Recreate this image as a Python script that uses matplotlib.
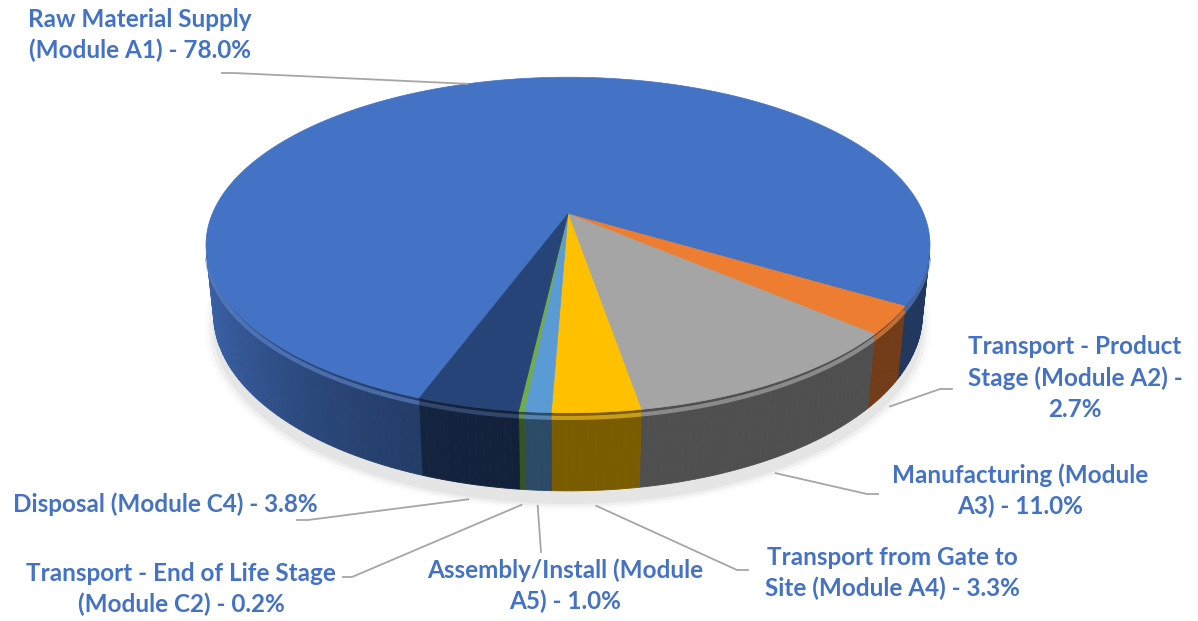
import numpy as np
import matplotlib
matplotlib.use("Agg")
import matplotlib.pyplot as plt
from matplotlib.colors import to_rgb

plt.rcParams['font.family'] = ['Lato', 'DejaVu Sans']

# data
categories = ['Raw Material Supply (Module A1)', 'Transport - Product Stage (Module A2)',
              'Manufacturing (Module A3)', 'Transport from Gate to Site (Module A4)',
              'Assembly/Install (Module A5)', 'Transport - End of Life Stage (Module C2)',
              'Disposal (Module C4)']
values = [78.0, 2.7, 11.0, 3.3, 1.0, 0.2, 3.8]
colors = ['#4472C4', '#ED7D31', '#A5A5A5', '#FFC000', '#5B9BD5', '#70AD47', '#264478']
label_lines = [
    ['Raw Material Supply', '(Module A1) - 78.0%'],
    ['Transport - Product', 'Stage (Module A2) -', '2.7%'],
    ['Manufacturing (Module', 'A3) - 11.0%'],
    ['Transport from Gate to', 'Site (Module A4) - 3.3%'],
    ['Assembly/Install (Module', 'A5) - 1.0%'],
    ['Transport - End of Life Stage', '(Module C2) - 0.2%'],
    ['Disposal (Module C4) - 3.8%'],
]
# label layout (pixels): text centre x, first baseline y, leader end x, y, stub
label_x = [140, 1075, 1020, 892, 565, 181, 165]
label_y = [27, 354, 483, 565, 578, 581, 512]
leader_end = [(222, 73), (952, 389), (878, 494), (748, 570), (541, 552), (343, 577), (297, 520)]
stub = [12, -12, -11, -11, 0, 9, 11]

# 3d view
cx, cy = 568, 214
D, F = 4.815, 1713
el = np.radians(27.1)
s, c = np.sin(el), np.cos(el)
H = 0.219
end_angle = -31.0  # where slice A1 ends, slices run clockwise
vis_lo, vis_hi = -166.5, -13.5


def proj(theta, r, z):
    t = np.radians(theta)
    x = r * np.cos(t)
    d = r * np.sin(t)
    depth = D + d * c - z * s
    return cx + F * x / depth, cy - F * (d * s + z * c) / depth


def shade(col, f):
    return tuple(np.clip(np.array(to_rgb(col)) * f, 0, 1))


def lighten(col, a):
    rgb = np.array(to_rgb(col))
    return tuple(rgb + (1 - rgb) * a)


def side_factor(theta):
    return 0.48 + 0.4 * max(0.0, -np.cos(np.radians(theta))) ** 2


fig = plt.figure(figsize=(11.98, 6.21), dpi=100)
ax = fig.add_axes([0, 0, 1, 1])
ax.set_xlim(0, 1198)
ax.set_ylim(621, 0)
ax.axis('off')

# slice angles, running clockwise, A1 ending at end_angle
fr = np.array(values) / sum(values)
starts = np.zeros(len(values))
ends = np.zeros(len(values))
ends[0] = end_angle
starts[0] = end_angle + 360 * fr[0]
for i in range(1, len(values)):
    starts[i] = ends[i - 1] if i > 1 else end_angle
    ends[i] = starts[i] - 360 * fr[i]

# soft shadow
tt = np.linspace(0, 360, 361)
for r, a in [(1.025, 0.025), (1.015, 0.035), (1.005, 0.045)]:
    px, py = proj(tt, r, -H - 0.02)
    ax.fill(px, py + 5, color='#000000', alpha=a, lw=0, zorder=0)

# side walls
for i, col in enumerate(colors):
    lo, hi = ends[i], starts[i]
    for off in (0, -360, 360):
        a0, a1 = max(lo + off, vis_lo), min(hi + off, vis_hi)
        if a1 <= a0:
            continue
        n = max(2, int(np.ceil(a1 - a0)))
        edges = np.linspace(a0, a1, n + 1)
        for t0, t1 in zip(edges[:-1], edges[1:]):
            seg = np.linspace(t0, t1, 4)
            xt, yt = proj(seg, 1, 0)
            xb, yb = proj(seg[::-1], 1, -H)
            fc = shade(col, side_factor((t0 + t1) / 2))
            ax.fill(np.r_[xt, xb], np.r_[yt, yb], color=fc, lw=0.6, ec=fc, zorder=2)
        # bevel highlight along the rim
        seg = np.linspace(a0, a1, 60)
        xr, yr = proj(seg, 1, -0.014)
        ax.plot(xr, yr, color=lighten(col, 0.15), lw=3, alpha=0.6, zorder=3,
                solid_capstyle='butt')

# top faces
for i, col in enumerate(colors):
    seg = np.linspace(starts[i], ends[i], max(3, int(abs(starts[i] - ends[i]) * 2)))
    xt, yt = proj(seg, 1, 0)
    ax.fill(np.r_[cx, xt], np.r_[cy, yt], color=col, lw=0.5, ec=col, zorder=4)

# labels and leader lines
for i, lines in enumerate(label_lines):
    for k, line in enumerate(lines):
        ax.text(label_x[i], label_y[i] + 31.5 * k, line, ha='center', va='baseline',
                fontsize=17.5, fontweight='bold', color='#4472C4', zorder=6)
    mid = (starts[i] + ends[i]) / 2
    mv = (mid + 180) % 360 - 180
    if vis_lo < mv < vis_hi:
        ax_, ay_ = proj(mv, 1.02, -H - 0.03)
    else:
        ax_, ay_ = proj(mv, 1.0, 0)
    ex, ey = leader_end[i]
    ax.plot([ax_, ex + stub[i], ex], [ay_, ey, ey], color='#A6A6A6', lw=1.3, zorder=5)

fig.savefig('out.png', dpi=100)
